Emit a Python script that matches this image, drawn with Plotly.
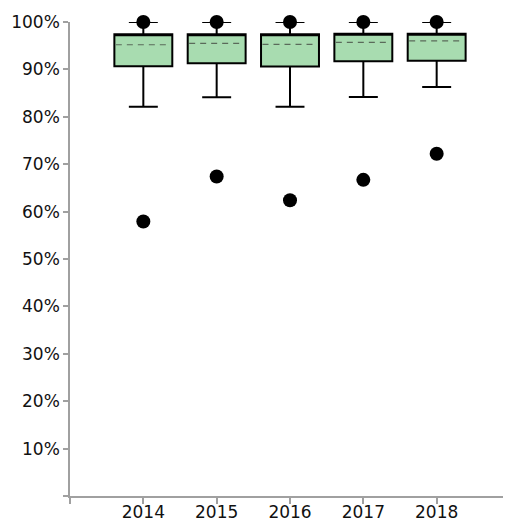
import plotly.graph_objects as go

years = [2014, 2015, 2016, 2017, 2018]
q1 = [90.65, 91.3, 90.6, 91.7, 91.8]
q3 = [97.4, 97.4, 97.4, 97.5, 97.5]
means = [95.2, 95.5, 95.3, 95.7, 96.0]
lower_fence = [82.1, 84.1, 82.1, 84.2, 86.3]
upper_fence = [100, 100, 100, 100, 100]
high_outliers = [100, 100, 100, 100, 100]
low_outliers = [57.9, 67.4, 62.4, 66.7, 72.2]

y_ticks = [0, 10, 20, 30, 40, 50, 60, 70, 80, 90, 100]
y_labels = [""] + [f"{v}%" for v in y_ticks[1:]]
x_ticks = [2013] + years + [2019]
x_labels = [""] + [str(y) for y in years] + [""]

BOX_W = 0.79
fig = go.Figure()
fig.add_trace(go.Box(
    x=years, q1=q1, median=q3, q3=q3,
    lowerfence=lower_fence, upperfence=upper_fence,
    boxpoints=False, width=BOX_W, whiskerwidth=0.5,
    fillcolor="#a8dcb0", line=dict(color="black", width=2),
    showlegend=False, hoverinfo="skip",
))
for yr, m in zip(years, means):
    fig.add_trace(go.Scatter(
        x=[yr - BOX_W / 2 + 0.02, yr + BOX_W / 2 - 0.02], y=[m, m], mode="lines",
        line=dict(color="#5a6a5a", width=1.2, dash="6px,5px"),
        showlegend=False, hoverinfo="skip",
    ))
fig.add_trace(go.Scatter(
    x=years + years, y=high_outliers + low_outliers, mode="markers",
    marker=dict(color="black", size=14),
    showlegend=False, cliponaxis=False,
))

# page body has an 8px margin, so the figure is sized/offset to compensate
fig.update_layout(
    width=503, height=514,
    margin=dict(l=62, r=1, t=14, b=26, autoexpand=False),
    plot_bgcolor="white", paper_bgcolor="white",
    font=dict(family="DejaVu Sans, Arial, sans-serif", size=17, color="#111"),
)
fig.update_xaxes(
    range=[2013, 2019], tickmode="array", tickvals=x_ticks, ticktext=x_labels,
    showline=True, linecolor="#a0a0a0", linewidth=1.5,
    ticks="outside", ticklen=6, tickcolor="#a0a0a0", tickwidth=1.5,
    showgrid=False, zeroline=False, automargin=False, ticklabelstandoff=-6,
)
fig.update_yaxes(
    range=[0, 100], tickmode="array", tickvals=y_ticks, ticktext=y_labels,
    showline=True, linecolor="#a0a0a0", linewidth=1.5,
    ticks="outside", ticklen=5, tickcolor="#a0a0a0", tickwidth=1.5,
    showgrid=False, zeroline=False, automargin=False,
)
fig.write_html("out.html")
